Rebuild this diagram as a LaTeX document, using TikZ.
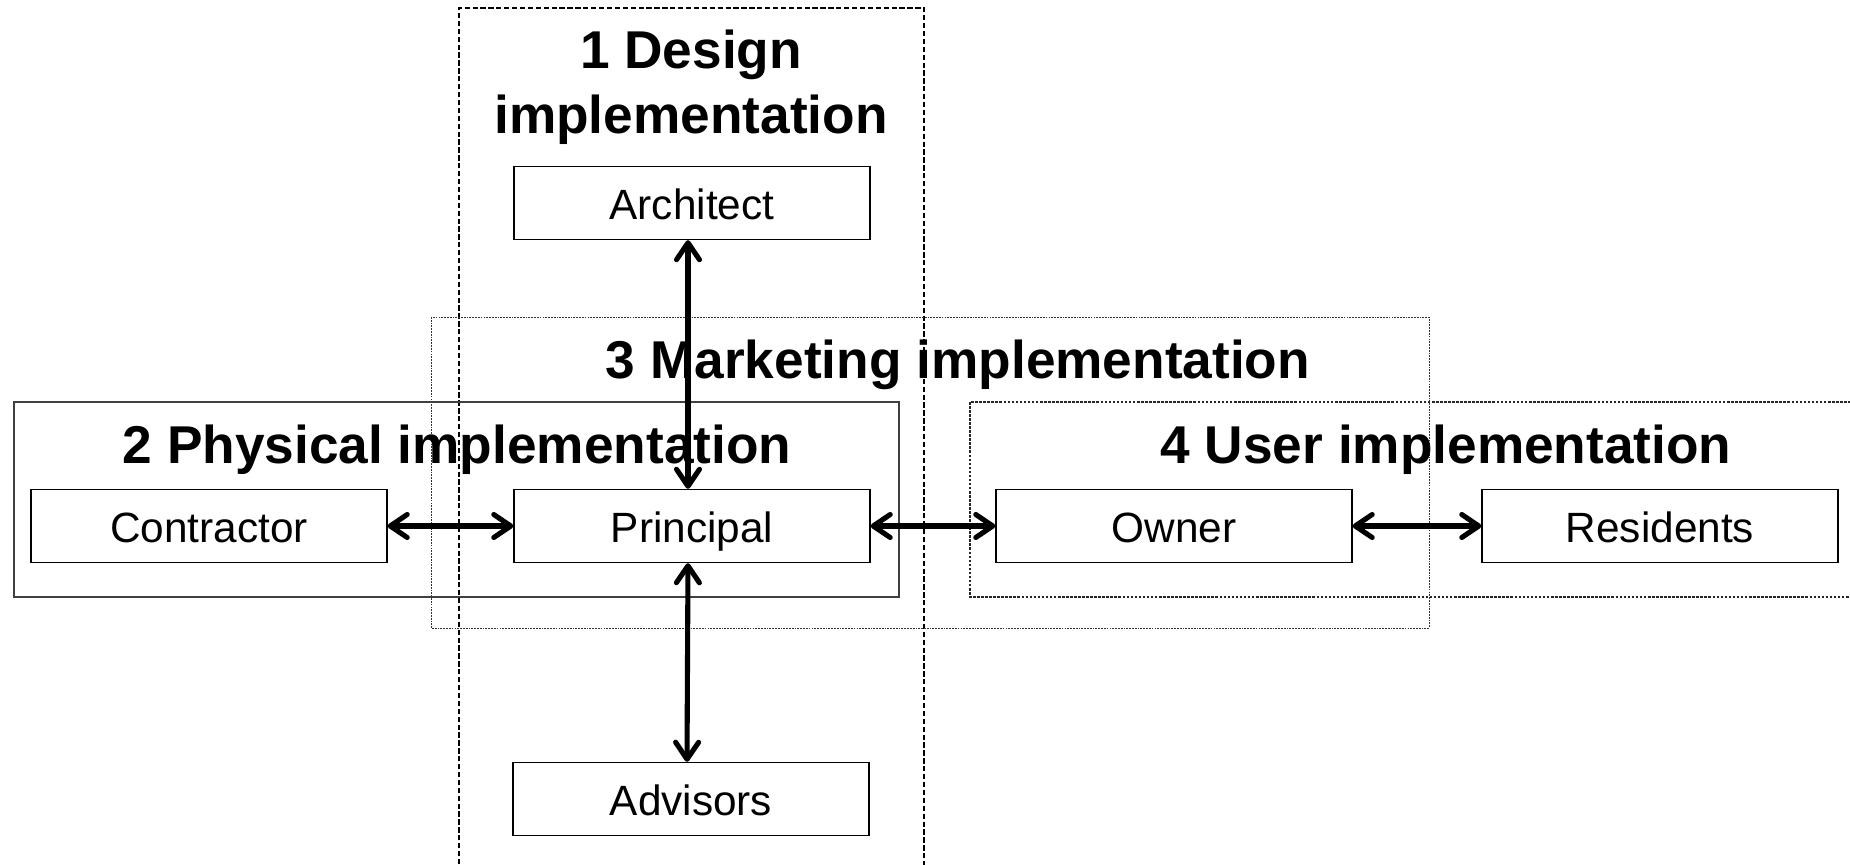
\documentclass[tikz,border=0pt]{standalone}
\usepackage{fontspec}
\setmainfont{Liberation Sans}
\usetikzlibrary{arrows.meta}
\begin{document}
\begin{tikzpicture}[x=0.02cm,y=-0.02cm,
  actor/.style={draw, line width=0.8pt, minimum width=7.12cm, minimum height=1.46cm,
    inner sep=0pt, text height=21.4pt, text depth=2.9pt, font=\fontsize{24.1}{28}\selectfont},
  title/.style={font=\fontsize{30.3}{37}\selectfont\bfseries, align=center, inner sep=0pt},
  biarrow/.style={line width=2.9pt, {Straight Barb[length=0.34cm,width=0.46cm,round]}-{Straight Barb[length=0.34cm,width=0.46cm,round]}},
  designbox/.style={line width=0.6pt, dash pattern=on 3pt off 1.5pt},
  marketbox/.style={line width=0.5pt, dash pattern=on 1pt off 0.6pt, black!80},
  physbox/.style={line width=0.9pt, black!75},
  userbox/.style={line width=0.6pt, dash pattern=on 1.5pt off 0.8pt, black!85}
]
\useasboundingbox (0,0) rectangle (1850,865);
% group frames
\draw[designbox] (459,880) -- (459,8) -- (924,8) -- (924,880);
\draw[marketbox] (431,317) rectangle (1429,628);
\draw[physbox] (14,402) rectangle (899,597);
\draw[userbox] (970,402) rectangle (1870,597);
% titles
\node[title] (t1) at (691,87) {1 Design\\implementation};
\node[title] (t3) at (958,365) {3 Marketing implementation};
\node[title] (t2) at (457,450) {2 Physical implementation};
\node[title] (t4) at (1446,450) {4 User implementation};
% actors
\node[actor] (arch) at (692,203) {Architect};
\node[actor] (princ) at (692,526) {Principal};
\node[actor] (contr) at (209,526) {Contractor};
\node[actor] (owner) at (1174,526) {Owner};
\node[actor] (resid) at (1660,526) {Residents};
\node[actor] (adv) at (691,799) {Advisors};
% connectors
\draw[biarrow] ([xshift=-0.08cm]arch.south) -- ([xshift=-0.08cm]princ.north);
\draw[biarrow] (contr) -- (princ);
\draw[biarrow] (princ) -- (owner);
\draw[biarrow] (owner) -- (resid);
\draw[biarrow] ([xshift=-0.08cm]princ.south) -- ([xshift=-0.08cm]adv.north);
\end{tikzpicture}
\end{document}
